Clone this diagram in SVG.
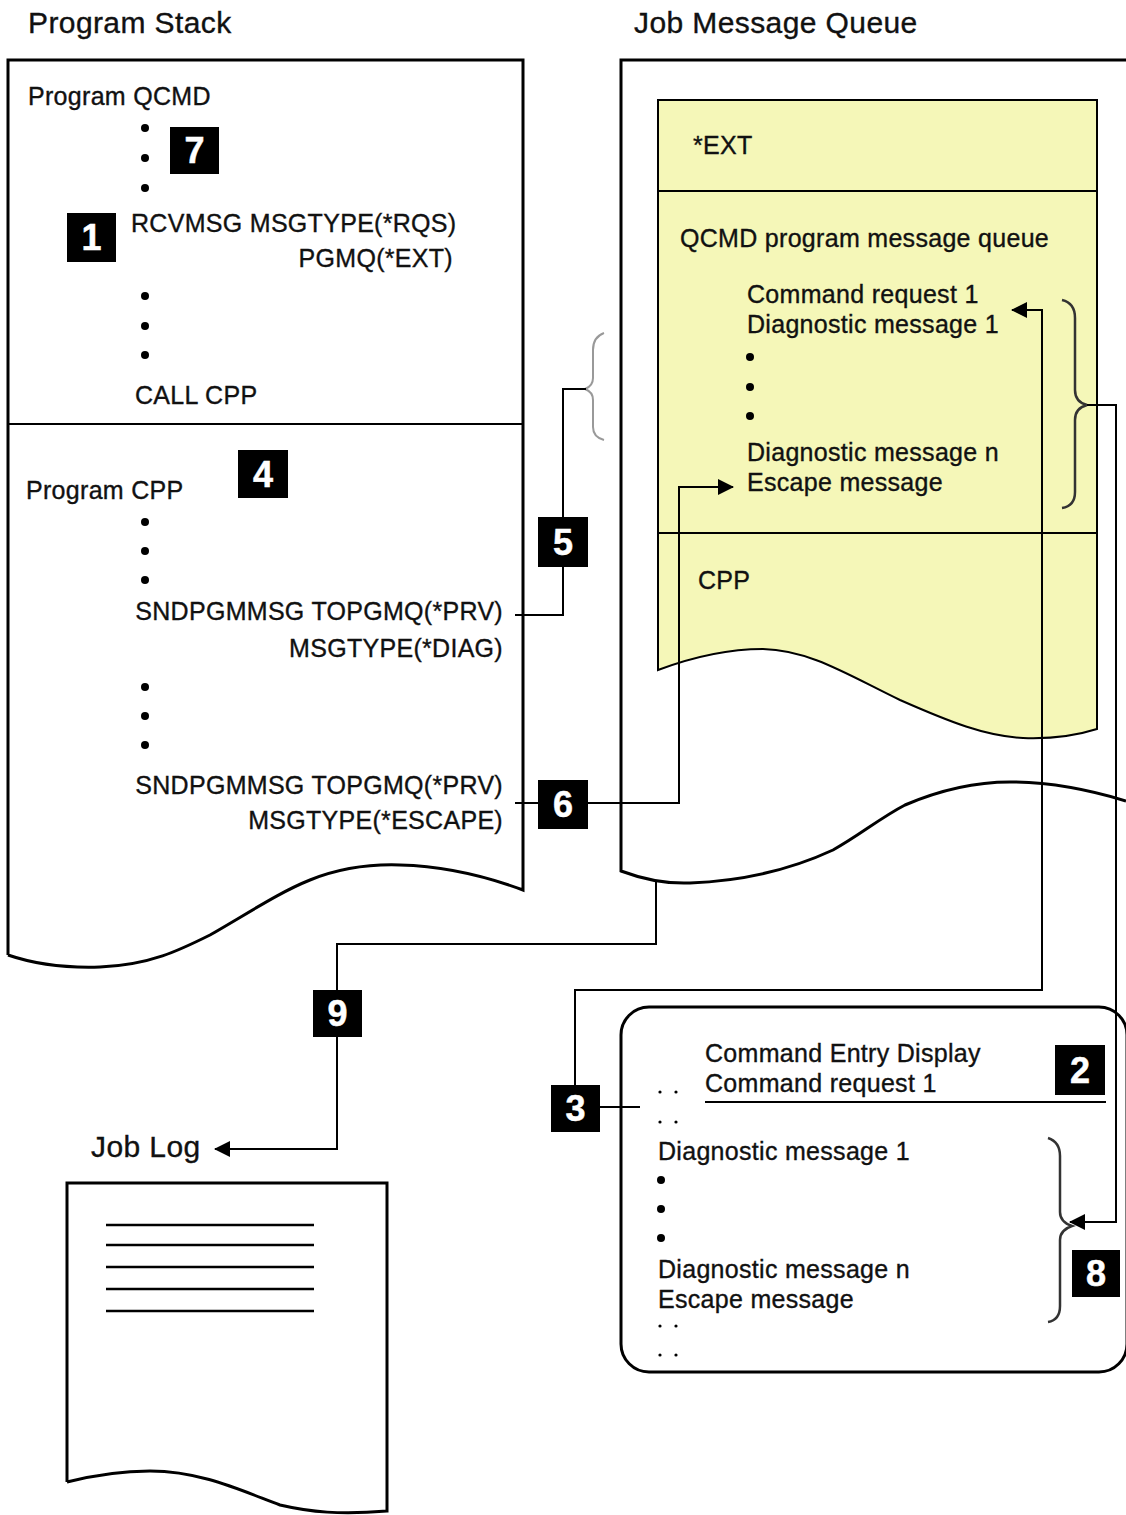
<svg xmlns="http://www.w3.org/2000/svg" width="1126" height="1515" viewBox="0 0 1126 1515">
<style>
text{font-family:"Liberation Sans",Arial,sans-serif;fill:#111;stroke:#111;stroke-width:0.35}
.t{font-size:25px;letter-spacing:0.3px}
.h{font-size:30px;letter-spacing:0.4px}
.r{text-anchor:end}
.panel{fill:none;stroke:#000;stroke-width:3}
.yel{fill:#f5f7b8;stroke:#000;stroke-width:2}
.div{stroke:#000;stroke-width:2}
.con{fill:none;stroke:#000;stroke-width:2}
.brace{fill:none;stroke:#333;stroke-width:2.5}
.gbrace{fill:none;stroke:#999;stroke-width:2}
.badge rect{fill:#000}
.badge text{fill:#fff;stroke:#fff;stroke-width:0.5;font-size:36px;font-weight:bold;text-anchor:middle;letter-spacing:0}
.dot{fill:#000}
.ld{stroke:#000;stroke-width:2.5}
</style>
<defs>
<marker id="arr" markerUnits="userSpaceOnUse" markerWidth="16" markerHeight="16" refX="15" refY="8" orient="auto">
<path d="M0,0 L16,8 L0,16 Z" fill="#000"/>
</marker>
</defs>
<rect width="1126" height="1515" fill="#fff"/>

<g id="program-stack">
<text class="h" x="28" y="33">Program Stack</text>
<path class="panel" fill="#fff" d="M8,955 L8,60 L523,60 L523,890 C 480,874 440,866 400,865 C 370,864 340,868 310,880 C 280,892 250,912 210,935 C 180,950 150,965 100,967 C 70,968 40,966 8,955"/>
<line class="div" x1="8" y1="424" x2="523" y2="424"/>
<text class="t" x="28" y="105">Program QCMD</text>
<circle class="dot" cx="145" cy="128" r="4"/>
<circle class="dot" cx="145" cy="158" r="4"/>
<circle class="dot" cx="145" cy="188" r="4"/>
<text class="t" x="131" y="232">RCVMSG MSGTYPE(*RQS)</text>
<text class="t r" x="453" y="267">PGMQ(*EXT)</text>
<circle class="dot" cx="145" cy="296" r="4"/>
<circle class="dot" cx="145" cy="326" r="4"/>
<circle class="dot" cx="145" cy="355" r="4"/>
<text class="t" x="135" y="404">CALL CPP</text>
<text class="t" x="26" y="499">Program CPP</text>
<circle class="dot" cx="145" cy="522" r="4"/>
<circle class="dot" cx="145" cy="551" r="4"/>
<circle class="dot" cx="145" cy="580" r="4"/>
<text class="t r" x="503" y="620">SNDPGMMSG TOPGMQ(*PRV)</text>
<text class="t r" x="503" y="657">MSGTYPE(*DIAG)</text>
<circle class="dot" cx="145" cy="687" r="4"/>
<circle class="dot" cx="145" cy="716" r="4"/>
<circle class="dot" cx="145" cy="745" r="4"/>
<text class="t r" x="503" y="794">SNDPGMMSG TOPGMQ(*PRV)</text>
<text class="t r" x="503" y="829">MSGTYPE(*ESCAPE)</text>
</g>

<g id="job-message-queue">
<text class="h" x="634" y="33">Job Message Queue</text>
<path class="panel" d="M1126,60 L621,60 L621,871 C 645,880 665,884 690,883 C 740,881 790,870 833,850 C 860,835 880,818 905,805 C 940,790 975,782 1010,782 C 1050,782 1090,790 1126,801"/>
<path class="yel" d="M658,670 L658,100 L1097,100 L1097,729 C 1075,736 1050,739 1023,738 C 985,736 950,722 900,700 C 850,676 810,650 763,649 C 725,649 690,658 658,670 Z"/>
<line class="div" x1="658" y1="191" x2="1097" y2="191"/>
<line class="div" x1="658" y1="533" x2="1097" y2="533"/>
<text class="t" x="693" y="154">*EXT</text>
<text class="t" x="680" y="247">QCMD program message queue</text>
<text class="t" x="747" y="303">Command request 1</text>
<text class="t" x="747" y="333">Diagnostic message 1</text>
<circle class="dot" cx="750" cy="357" r="4"/>
<circle class="dot" cx="750" cy="387" r="4"/>
<circle class="dot" cx="750" cy="416" r="4"/>
<text class="t" x="747" y="461">Diagnostic message n</text>
<text class="t" x="747" y="491">Escape message</text>
<text class="t" x="698" y="589">CPP</text>
<path class="brace" d="M1062,300 Q1075,303 1075,318 L1075,390 Q1075,402 1087,405 Q1075,408 1075,420 L1075,492 Q1075,506 1062,508"/>
<path class="gbrace" d="M604,333 Q593,337 593,350 L593,378 Q593,386 585,389 Q593,392 593,400 L593,427 Q593,437 604,440"/>
</g>

<g id="command-entry-display">
<rect class="panel" x="621" y="1007" width="506" height="365" rx="28" ry="28"/>
<text class="t" x="705" y="1062">Command Entry Display</text>
<text class="t" x="705" y="1092">Command request 1</text>
<line class="div" x1="705" y1="1102" x2="1106" y2="1102"/>
<circle class="dot" cx="660" cy="1092" r="1.6"/>
<circle class="dot" cx="676" cy="1092" r="1.6"/>
<circle class="dot" cx="660" cy="1122" r="1.6"/>
<circle class="dot" cx="676" cy="1122" r="1.6"/>
<text class="t" x="658" y="1160">Diagnostic message 1</text>
<circle class="dot" cx="661" cy="1180" r="4"/>
<circle class="dot" cx="661" cy="1209" r="4"/>
<circle class="dot" cx="661" cy="1238" r="4"/>
<text class="t" x="658" y="1278">Diagnostic message n</text>
<text class="t" x="658" y="1308">Escape message</text>
<circle class="dot" cx="660" cy="1326" r="1.6"/>
<circle class="dot" cx="676" cy="1326" r="1.6"/>
<circle class="dot" cx="660" cy="1355" r="1.6"/>
<circle class="dot" cx="676" cy="1355" r="1.6"/>
<path class="brace" d="M1048,1138 Q1060,1142 1060,1156 L1060,1212 Q1060,1222 1072,1226 Q1060,1230 1060,1240 L1060,1306 Q1060,1320 1048,1322"/>
</g>

<g id="job-log">
<text class="h" x="91" y="1157">Job Log</text>
<path class="panel" fill="#fff" d="M67,1482 L67,1183 L387,1183 L387,1511 C 340,1515 310,1512 280,1505 C 240,1490 200,1471 150,1471 C 125,1471 95,1475 67,1482"/>
<line class="ld" x1="106" y1="1225" x2="314" y2="1225"/>
<line class="ld" x1="106" y1="1245" x2="314" y2="1245"/>
<line class="ld" x1="106" y1="1267" x2="314" y2="1267"/>
<line class="ld" x1="106" y1="1289" x2="314" y2="1289"/>
<line class="ld" x1="106" y1="1311" x2="314" y2="1311"/>
</g>

<g id="connectors">
<path class="con" d="M515,615 L563,615 L563,389 L586,389"/>
<path class="con" d="M515,803 L679,803 L679,487 L733,487" marker-end="url(#arr)"/>
<path class="con" d="M575,1108 L575,990 L1042,990 L1042,310 L1012,310" marker-end="url(#arr)"/>
<path class="con" d="M600,1107 L640,1107"/>
<path class="con" d="M1087,405 L1116,405 L1116,1222 L1070,1222" marker-end="url(#arr)"/>
<path class="con" d="M656,881 L656,944 L337,944 L337,1149 L215,1149" marker-end="url(#arr)"/>
</g>

<g id="badge-1" class="badge"><rect x="67" y="213" width="49" height="49"/><text x="91.5" y="250">1</text></g>
<g id="badge-2" class="badge"><rect x="1055" y="1045" width="50" height="50"/><text x="1080" y="1083">2</text></g>
<g id="badge-3" class="badge"><rect x="551" y="1085" width="49" height="47"/><text x="575.5" y="1121">3</text></g>
<g id="badge-4" class="badge"><rect x="238" y="450" width="50" height="48"/><text x="263" y="487">4</text></g>
<g id="badge-5" class="badge"><rect x="538" y="517" width="50" height="50"/><text x="563" y="555">5</text></g>
<g id="badge-6" class="badge"><rect x="538" y="780" width="50" height="49"/><text x="563" y="817">6</text></g>
<g id="badge-7" class="badge"><rect x="170" y="127" width="49" height="47"/><text x="194.5" y="163">7</text></g>
<g id="badge-8" class="badge"><rect x="1072" y="1250" width="48" height="47"/><text x="1096" y="1286">8</text></g>
<g id="badge-9" class="badge"><rect x="313" y="990" width="49" height="47"/><text x="337.5" y="1026">9</text></g>
</svg>
